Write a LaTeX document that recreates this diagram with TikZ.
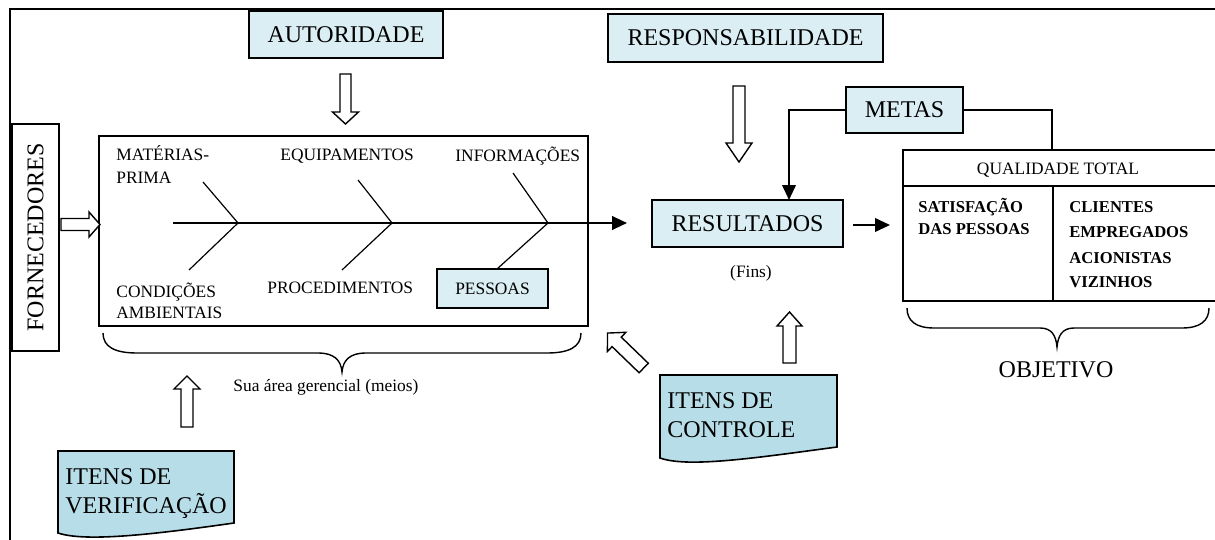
\documentclass[tikz,border=0pt]{standalone}
\usepackage{fontspec}
\setmainfont{Liberation Serif}
\usetikzlibrary{arrows.meta}
\definecolor{boxfill}{RGB}{218,238,243}
\definecolor{docfill}{RGB}{183,222,232}
% x, y, angle, length, head length, shaft half width, head half width
\newcommand\hollowarr[7]{%
  \begin{scope}[shift={(#1,#2)},rotate=#3]
    \draw[harrow] (0,-#6) -- ({#4-#5},-#6) -- ({#4-#5},-#7) -- (#4,0) -- ({#4-#5},#7) -- ({#4-#5},#6) -- (0,#6) -- cycle;
  \end{scope}}
\begin{document}
\begin{tikzpicture}[x=0.5pt,y=-0.5pt,
  bigfont/.style={font=\fontsize{12}{14}\selectfont},
  smallfont/.style={font=\fontsize{8.7}{10}\selectfont},
  boldfont/.style={font=\fontsize{8.3}{10}\selectfont\bfseries},
  bluebox/.style={draw, fill=boxfill, line width=0.8pt, inner sep=0pt, bigfont},
  plainbox/.style={draw, line width=0.8pt, inner sep=0pt},
  lbl/.style={inner sep=0pt, anchor=base west, smallfont},
  blbl/.style={inner sep=0pt, anchor=base west, boldfont},
  biglbl/.style={inner sep=0pt, anchor=base west, bigfont},
  bone/.style={line width=0.6pt},
  harrow/.style={draw, fill=white, line width=0.7pt, line join=miter},
  doc/.style={draw, fill=docfill, line width=0.8pt},
  tip/.style={-{Triangle[length=7.5pt,width=6.8pt]}},
]
\useasboundingbox (0,0) rectangle (1215,540);
\clip (0,0) rectangle (1215,540);
\fill[white] (0,0) rectangle (1215,540);
% outer frame
\draw[line width=0.8pt] (10,560) -- (10,9) -- (1240,9);

% top boxes
\node[bluebox, minimum width=97pt, minimum height=23.5pt] (aut) at (346,34.5) {AUTORIDADE};
\node[bluebox, minimum width=137.5pt, minimum height=24pt] (resp) at (745.5,38) {RESPONSABILIDADE};
\node[bluebox, minimum width=58.5pt, minimum height=23pt] (metas) at (904.5,110) {METAS};
\node[bluebox, minimum width=95.5pt, minimum height=23.5pt] (res) at (747.5,223.5) {RESULTADOS};
\node[inner sep=0pt, anchor=base, smallfont] (fins) at (751,277) {(Fins)};

% fornecedores
\node[plainbox, bigfont, rotate=90, minimum width=113.5pt, minimum height=23.5pt] (forn) at (35.5,237.5) {FORNECEDORES};

% fishbone box
\node[plainbox, minimum width=244.5pt, minimum height=95pt] (fish) at (343.5,231) {};
\coordinate (spineS) at (173,223);
\coordinate (spineE) at (627,223);
\draw[line width=1.15pt, tip] (spineS) -- (spineE);
% bones
\coordinate (j1) at (238,223);
\coordinate (j2) at (392,223);
\coordinate (j3) at (548,223);
\draw[bone] (203,182) -- (j1) -- (189,270);
\draw[bone] (358,180) -- (j2) -- (342,270);
\draw[bone] (513,173) -- (j3) -- (497,269);
\node[bluebox, smallfont, minimum width=55.5pt, minimum height=19.5pt] (pess) at (492.5,288.5) {PESSOAS};

% fishbone labels
\node[lbl] (mp1) at (116,161) {MATÉRIAS-};
\node[lbl] (mp2) at (116,184) {PRIMA};
\node[lbl] (equip) at (280,161) {EQUIPAMENTOS};
\node[lbl] (info) at (455,162) {INFORMAÇÕES};
\node[lbl] (cond1) at (116,297) {CONDIÇÕES};
\node[lbl] (cond2) at (116,318) {AMBIENTAIS};
\node[lbl] (proc) at (267,293) {PROCEDIMENTOS};

% brace under fishbone
\draw[line width=0.7pt] (103,333) .. controls (103,347) and (115,353) .. (137,353) -- (318,353)
  .. controls (334,353) and (341,360) .. (342,372)
  .. controls (343,360) and (350,353) .. (366,353) -- (547,353)
  .. controls (569,353) and (581,347) .. (581,333);
\node[lbl] (area) at (233,391) {Sua área gerencial (meios)};

% qualidade total box
\node[plainbox, anchor=north west, minimum width=159pt, minimum height=75.5pt] (qual) at (902,149) {};
\draw[line width=0.8pt] (902,186) -- (1220,186);
\draw[line width=0.8pt] (1053,186) -- (1053,300);
\node[inner sep=0pt, anchor=base, smallfont] (qt) at (1058,175) {QUALIDADE TOTAL};
\node[blbl] (sat1) at (918,212) {SATISFAÇÃO};
\node[blbl] (sat2) at (918,234) {DAS PESSOAS};
\node[blbl] (cli) at (1069,212) {CLIENTES};
\node[blbl] (emp) at (1069,237) {EMPREGADOS};
\node[blbl] (aci) at (1069,263) {ACIONISTAS};
\node[blbl] (viz) at (1069,287) {VIZINHOS};

% brace under qualidade
\draw[line width=0.7pt] (907,308) .. controls (907,321) and (916,328) .. (934,328) -- (1040,328)
  .. controls (1052,328) and (1056,336) .. (1057,347)
  .. controls (1058,336) and (1062,328) .. (1074,328) -- (1182,328)
  .. controls (1200,328) and (1209,321) .. (1209,308);
\node[inner sep=0pt, anchor=base, bigfont] (obj) at (1056,377) {OBJETIVO};

% metas connections
\coordinate (mt) at (789,200);
\coordinate (qtop) at (1052,149);
\draw[line width=1pt, tip] (metas.west) -| (mt);
\draw[line width=0.8pt] (metas.east) -| (qtop);
\draw[line width=1pt, tip, shorten <=4.5pt, shorten >=6pt] (res.east |- 0,225) -- (qual.west |- 0,225);

% documents
\draw[doc] (58,451) -- (234,451) -- (234,523) .. controls (150,535) and (85,542) .. (58,533) -- cycle;
\node[biglbl] (iv1) at (65,484) {ITENS DE};
\node[biglbl] (iv2) at (65,513) {VERIFICAÇÃO};
\draw[doc] (660,375) -- (837,375) -- (837,447) .. controls (755,458) and (688,468) .. (660,458) -- cycle;
\node[biglbl] (ic1) at (667,408) {ITENS DE};
\node[biglbl] (ic2) at (667,437) {CONTROLE};

% hollow arrows
\hollowarr{345.5}{74}{-90}{50}{12}{5.5}{13}
\hollowarr{739}{86}{-90}{76}{19}{6}{13}
\hollowarr{61}{224.5}{0}{39}{11}{6}{12.5}
\hollowarr{187}{427}{90}{51}{13}{6}{13}
\hollowarr{789.5}{363}{90}{51}{14}{6.5}{12.5}
\hollowarr{643.7}{368}{136}{50.3}{12.7}{6.6}{13.3}
\end{tikzpicture}
\end{document}
